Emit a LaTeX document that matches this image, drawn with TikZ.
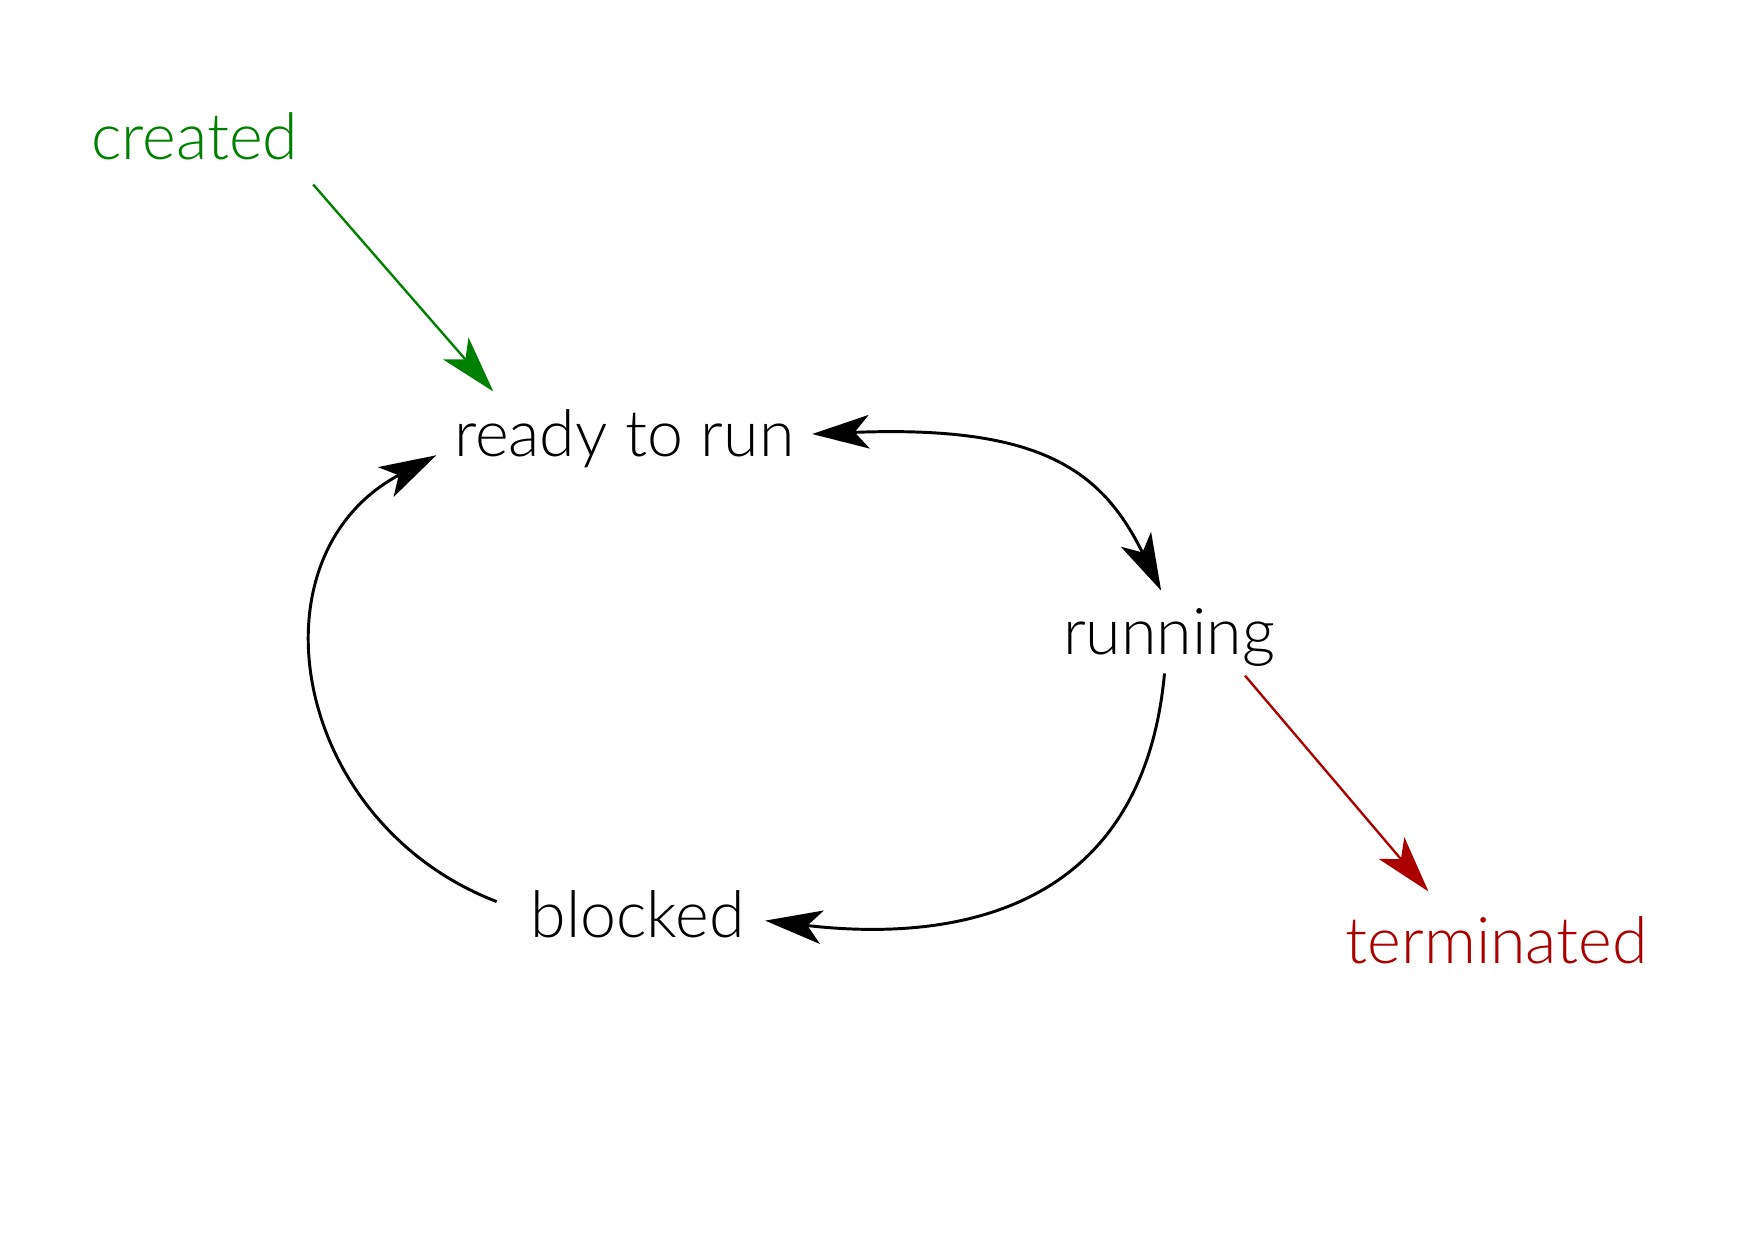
\documentclass[tikz,border=0pt]{standalone}
\usepackage{fontspec}
\setmainfont{Lato Light}
\usetikzlibrary{arrows.meta,calc}
\definecolor{newgreen}{RGB}{0,128,0}
\definecolor{endred}{RGB}{170,0,0}

\begin{document}
\begin{tikzpicture}[
	state/.style={anchor=base, inner sep=0pt, font=\fontsize{32.8}{38}\selectfont},
	tip/.tip={Stealth[length=1.02cm, width=0.6cm, inset=0.26cm]},
	trans/.style={line width=1.5pt, -tip}
	]
			%%%%% START %%%%%
			
			\useasboundingbox (0, 0) rectangle (31.36, 22.10);
			
			\node[state, text=newgreen] (created) at (3.48, 19.24) {created};
			\node[state] (ready) at (11.16, 13.94) {ready to run};
			\node[state] (running) at (20.90, 10.40) {running};
			\node[state] (blocked) at (11.40, 5.34) {blocked};
			\node[state, text=endred] (terminated) at (26.76, 4.88) {terminated};
			
			\draw[trans, newgreen, line width=1.2pt] ($(created.base)+(2.12, -0.44)$) -- ($(ready.base)+(-2.34, 1.16)$);
			
			\draw[trans, tip-tip] ($(ready.base)+(3.36, 0.40)$) .. controls +(4.08, 0.16) and +(-1.06, 2.16) .. ($(running.base)+(-0.14, 1.14)$);
			\draw[trans] ($(running.base)+(-0.08, -0.34)$) .. controls +(-0.42, -4.56) and +(2.92, -0.34) .. ($(blocked.base)+(2.28, 0.30)$);
			\draw[trans] ($(blocked.base)+(-2.52, 0.64)$) .. controls +(-3.68, 1.42) and +(-3.40, -1.80) .. ($(ready.base)+(-3.36, 0.02)$);
			
			\draw[trans, endred, line width=1.2pt] ($(running.base)+(1.36, -0.38)$) -- ($(terminated.base)+(-1.22, 1.28)$);
			
			%%%%% END %%%%%
\end{tikzpicture}
\end{document}
